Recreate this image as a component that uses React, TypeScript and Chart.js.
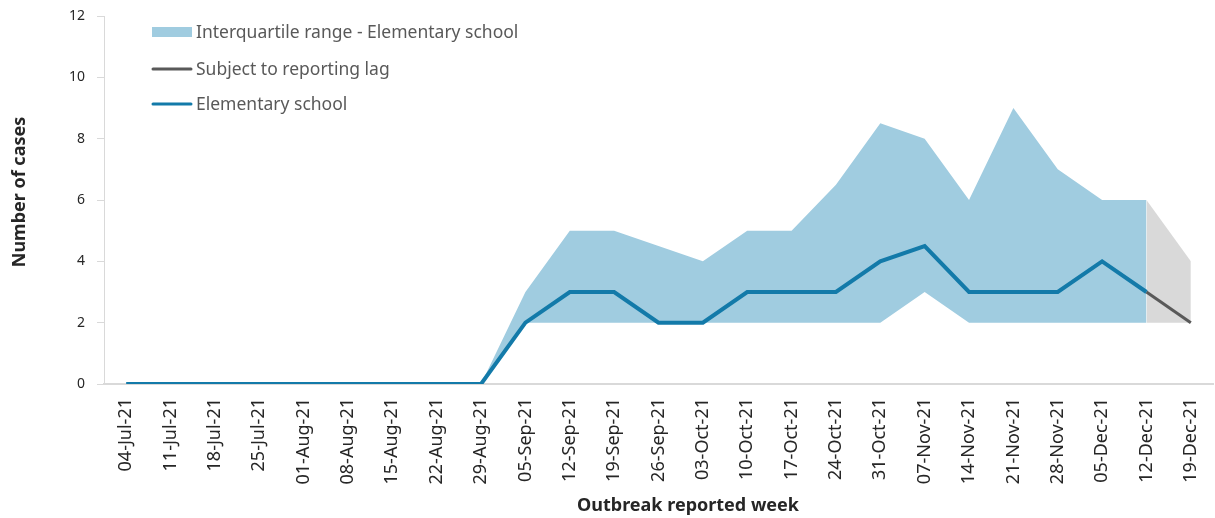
import React, { useEffect, useRef } from "react";
import { Chart, registerables } from "chart.js";

Chart.register(...registerables);

const weeks = [
  "04-Jul-21", "11-Jul-21", "18-Jul-21", "25-Jul-21", "01-Aug-21", "08-Aug-21", "15-Aug-21",
  "22-Aug-21", "29-Aug-21", "05-Sep-21", "12-Sep-21", "19-Sep-21", "26-Sep-21", "03-Oct-21",
  "10-Oct-21", "17-Oct-21", "24-Oct-21", "31-Oct-21", "07-Nov-21", "14-Nov-21", "21-Nov-21",
  "28-Nov-21", "05-Dec-21", "12-Dec-21", "19-Dec-21",
];

const elementary = [0, 0, 0, 0, 0, 0, 0, 0, 0, 2, 3, 3, 2, 2, 3, 3, 3, 4, 4.5, 3, 3, 3, 4, 3, null];
const lagLine = [null, null, null, null, null, null, null, null, null, null, null, null, null, null, null, null, null, null, null, null, null, null, null, 3, 2];
const iqrLow = [null, null, null, null, null, null, null, null, 0, 2, 2, 2, 2, 2, 2, 2, 2, 2, 3, 2, 2, 2, 2, 2, null];
const iqrHigh = [null, null, null, null, null, null, null, null, 0, 3, 5, 5, 4.5, 4, 5, 5, 6.5, 8.5, 8, 6, 9, 7, 6, 6, null];
const lagLow = [null, null, null, null, null, null, null, null, null, null, null, null, null, null, null, null, null, null, null, null, null, null, null, 2, 2];
const lagHigh = [null, null, null, null, null, null, null, null, null, null, null, null, null, null, null, null, null, null, null, null, null, null, null, 6, 4];

const legendItems = [
  { label: "Interquartile range - Elementary school", type: "box", color: "#a0cce0" },
  { label: "Subject to reporting lag", type: "line", color: "#595959" },
  { label: "Elementary school", type: "line", color: "#137aa9" },
];

const xTitle = "Outbreak reported week";
const yTitle = "Number of cases";

const FONT = "'Noto Sans', sans-serif";

const legendPlugin = {
  id: "insideLegend",
  afterDraw(chart: any) {
    const ctx = chart.ctx;
    ctx.save();
    const x0 = 152;
    const ys = [32, 69, 104];
    ctx.font = `17.5px ${FONT}`;
    ctx.textBaseline = "middle";
    ctx.textAlign = "left";
    legendItems.forEach((it, i) => {
      const y = ys[i];
      if (it.type === "box") {
        ctx.fillStyle = it.color;
        ctx.fillRect(x0, y - 5, 40, 10);
      } else {
        ctx.strokeStyle = it.color;
        ctx.lineWidth = 3;
        ctx.lineCap = "round";
        ctx.beginPath();
        ctx.moveTo(x0 + 1, y);
        ctx.lineTo(x0 + 39, y);
        ctx.stroke();
      }
      ctx.fillStyle = "#595959";
      ctx.fillText(it.label, x0 + 44, y + 1);
    });

    // axis titles
    ctx.fillStyle = "#262626";
    ctx.font = `bold 18px ${FONT}`;
    ctx.textAlign = "center";
    ctx.textBaseline = "middle";
    ctx.fillText(xTitle, 688, 506);
    ctx.translate(20, 192);
    ctx.rotate(-Math.PI / 2);
    ctx.fillText(yTitle, 0, 0);
    ctx.restore();
  },
};

export default function App() {
  const ref = useRef<HTMLCanvasElement>(null);
  useEffect(() => {
    document.body.style.margin = "0";
    const chart = new Chart(ref.current!, {
      type: "line",
      data: {
        labels: weeks,
        datasets: [
          { label: "Elementary school", data: elementary, borderColor: "#137aa9", borderWidth: 4, pointRadius: 0, fill: false, tension: 0 },
          { label: "Subject to reporting lag", data: lagLine, borderColor: "#595959", borderWidth: 3, pointRadius: 0, fill: false, tension: 0 },
          { label: "IQR low", data: iqrLow, borderColor: "rgba(0,0,0,0)", borderWidth: 0, pointRadius: 0, fill: false },
          { label: "Interquartile range - Elementary school", data: iqrHigh, borderColor: "rgba(0,0,0,0)", borderWidth: 0, pointRadius: 0, backgroundColor: "#a0cce0", fill: 2 },
          { label: "Lag low", data: lagLow, borderColor: "rgba(0,0,0,0)", borderWidth: 0, pointRadius: 0, fill: false },
          { label: "Lag range", data: lagHigh, borderColor: "rgba(0,0,0,0)", borderWidth: 0, pointRadius: 0, backgroundColor: "#d9d9d9", fill: 4 },
        ],
      },
      options: {
        animation: false,
        responsive: false,
        maintainAspectRatio: false,
        layout: { padding: { top: 16, right: 2, left: 0, bottom: 0 } },
        plugins: { legend: { display: false }, tooltip: { enabled: false } },
        scales: {
          x: {
            offset: true,
            grid: { display: true, drawOnChartArea: false, drawTicks: false, color: "#d9d9d9" },
            border: { color: "#d9d9d9", width: 2 },
            ticks: {
              autoSkip: false,
              maxRotation: 90,
              minRotation: 90,
              padding: 14,
              color: "#262626",
              font: { family: FONT, size: 18 },
            },
            title: { display: false },
            afterFit(scale: any) {
              scale.height = 134;
              scale.paddingLeft = 0;
              scale.paddingRight = 0;
            },
          },
          y: {
            min: 0,
            max: 12,
            ticks: {
              stepSize: 2,
              padding: 12,
              color: "#262626",
              font: { family: FONT, size: 14 },
            },
            grid: { display: true, drawOnChartArea: false, tickLength: 7, color: "#d9d9d9" },
            border: { color: "#d9d9d9", width: 1 },
            title: { display: false },
            afterFit(scale: any) {
              scale.width = 104;
              scale.paddingTop = 0;
              scale.paddingBottom = 0;
            },
          },
        },
      },
      plugins: [legendPlugin],
    });
    return () => chart.destroy();
  }, []);
  return <canvas ref={ref} width={1215} height={518} style={{ display: "block" }} />;
}
